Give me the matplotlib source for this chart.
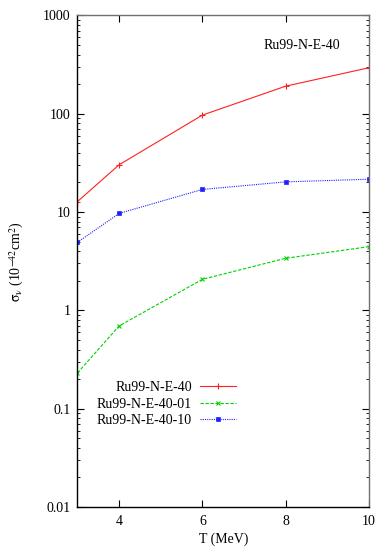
import numpy as np
import matplotlib
matplotlib.use('Agg')
import matplotlib.pyplot as plt
from matplotlib.ticker import LogLocator, FixedLocator, NullFormatter, FuncFormatter

plt.rcParams['font.family'] = ['Liberation Serif', 'DejaVu Serif']
plt.rcParams['mathtext.fontset'] = 'stix'

# data
T = [3, 4, 6, 8, 10]
sig_40 = [12.8, 30.3, 97, 191, 294]
sig_40_01 = [0.231, 0.695, 2.07, 3.39, 4.45]
sig_40_10 = [4.93, 9.7, 17.0, 20.3, 21.6]
labels = ['Ru99-N-E-40', 'Ru99-N-E-40-01', 'Ru99-N-E-40-10']
x_ticks = [4, 6, 8, 10]
y_ticks = [0.01, 0.1, 1, 10, 100, 1000]

fig = plt.figure(figsize=(3.92, 5.49), dpi=100)
ax = fig.add_axes([0.1977, 0.0765, 0.7436, 0.8953])

ax.plot(T, sig_40, color='#ff2020', lw=0.8, ls='-', marker='+', ms=4, mew=0.8, label=labels[0])
ax.plot(T, sig_40_01, color='#00d000', lw=0.8, ls=(0, (3, 1.5)), marker='x', ms=3.5, mew=0.8, label=labels[1])
ax.plot(T, sig_40_10, color='#2020ff', lw=0.8, ls=(0, (1, 1)), marker='s', ms=2.5, mew=0.5, label=labels[2])

ax.set_yscale('log')
ax.set_xlim(3, 10)
ax.set_ylim(0.01, 1000)

ax.xaxis.set_major_locator(FixedLocator(x_ticks))
ax.yaxis.set_major_locator(FixedLocator(y_ticks))
ax.yaxis.set_major_formatter(FuncFormatter(lambda v, p: '%g' % v))
ax.yaxis.set_minor_locator(LogLocator(base=10, subs=np.arange(2, 10), numticks=20))
ax.yaxis.set_minor_formatter(NullFormatter())

ax.tick_params(which='both', direction='in', top=True, right=True, labelsize=10)
ax.tick_params(axis='x', pad=6)
ax.tick_params(axis='y', pad=5)
ax.tick_params(which='major', length=5, width=0.8)
ax.tick_params(which='minor', length=2.5, width=0.6)

for s in ax.spines.values():
    s.set_linewidth(1.0)
ax.spines['right'].set_color('#707070')
ax.spines['top'].set_color('#707070')

ax.set_xlabel('T (MeV)', fontsize=10, labelpad=3)
ax.set_ylabel(r'$\mathrm{\sigma_{\nu}}$ (10$^{-42}$cm$^2$)', fontsize=10, labelpad=12)

ax.text(0.77, 0.938, 'Ru99-N-E-40', transform=ax.transAxes, fontsize=10,
        ha='center', va='center')

ax.legend(loc='center right', bbox_to_anchor=(0.569, 0.209), frameon=False,
          markerfirst=False, fontsize=10, handlelength=2.6, handletextpad=0.6,
          labelspacing=0.25, borderpad=0)

fig.savefig('out.png', dpi=100)
